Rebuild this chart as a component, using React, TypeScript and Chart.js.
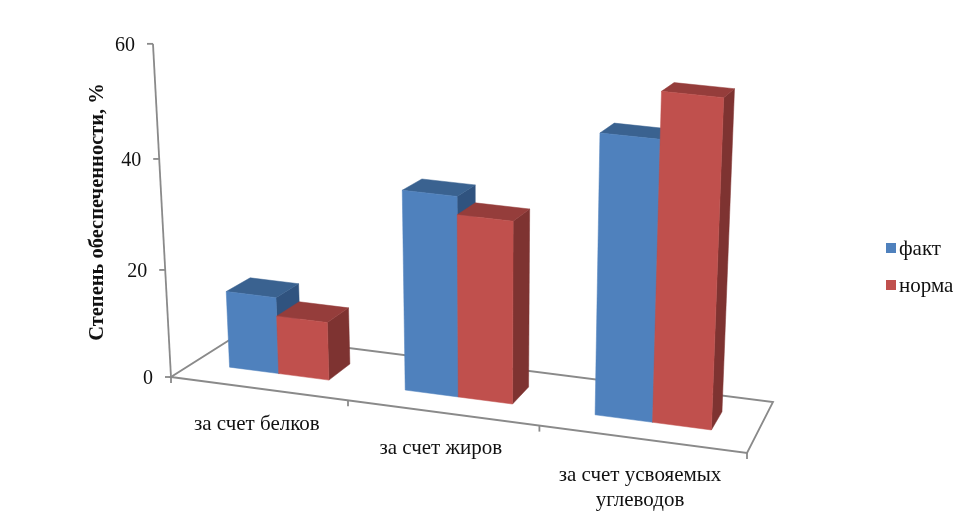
import React, { useEffect, useRef } from "react";
import { Chart, registerables } from "chart.js";

Chart.register(...registerables);

const categories: (string | string[])[] = ["за счет белков", "за счет жиров", ["за счет усвояемых", "углеводов"]];
const factValues = [14.5, 37.1, 51];
const normValues = [11, 33.8, 59.2];
const yTicks = { min: 0, max: 60, stepSize: 20 };
const yTitle = "Степень обеспеченности, %";
const FONT = '"Liberation Serif", serif';
const BLUE = ["#4F81BD", "#3A6290", "#30537F"];
const RED = ["#C0504D", "#953D3B", "#7E3331"];
const AXIS = "#8A8A8A";

// floor quad of the 3D scene (calibration of the projection)
const FLOOR = [[171, 377], [747, 453], [773, 402], [239, 334]];
const VANISH = [493, 6330];
const TOP_SCALE = -0.053; // homogeneous shift at the axis maximum
const DEPTH = [0.32, 0.68];
const FORESHORTEN = 0.072;

function makeProjector(maxZ: number) {
  const [[x0, y0], [x1, y1], [x2, y2], [x3, y3]] = FLOOR;
  const dx1 = x1 - x2, dx2 = x3 - x2, sx = x0 - x1 + x2 - x3;
  const dy1 = y1 - y2, dy2 = y3 - y2, sy = y0 - y1 + y2 - y3;
  const den = dx1 * dy2 - dx2 * dy1;
  const g = (sx * dy2 - dx2 * sy) / den;
  const h = (dx1 * sy - sx * dy1) / den;
  const a = x1 - x0 + g * x1, b = x3 - x0 + h * x3;
  const d = y1 - y0 + g * y1, e = y3 - y0 + h * y3;
  return (uRaw: number, v: number, z: number): [number, number] => {
    const u = uRaw / (1 + FORESHORTEN * (1 - uRaw));
    const s = (z / maxZ) * TOP_SCALE;
    const X = a * u + b * v + x0 + s * VANISH[0];
    const Y = d * u + e * v + y0 + s * VANISH[1];
    const W = g * u + h * v + 1 + s;
    return [X / W, Y / W];
  };
}

function poly(ctx: CanvasRenderingContext2D, pts: [number, number][], fill: string) {
  ctx.beginPath();
  pts.forEach((p, i) => (i ? ctx.lineTo(p[0], p[1]) : ctx.moveTo(p[0], p[1])));
  ctx.closePath();
  ctx.fillStyle = fill;
  ctx.fill();
  ctx.strokeStyle = fill;
  ctx.lineWidth = 0.5;
  ctx.stroke();
}

const scene3d = {
  id: "scene3d",
  beforeDatasetsDraw(chart: any) {
    const { ctx, chartArea: area, scales } = chart;
    const xS = scales.x, yS = scales.y;
    const P = makeProjector(yS.max);
    const toU = (px: number) => (px - area.left) / area.width;
    ctx.save();

    // floor and axes
    ctx.strokeStyle = AXIS;
    ctx.lineWidth = 1.8;
    ctx.beginPath();
    ctx.moveTo(FLOOR[0][0], FLOOR[0][1]);
    FLOOR.slice(1).forEach((p) => ctx.lineTo(p[0], p[1]));
    ctx.closePath();
    ctx.stroke();
    const bottom = P(0, 0, 0), top = P(0, 0, yS.max);
    ctx.beginPath();
    ctx.moveTo(bottom[0], bottom[1]);
    ctx.lineTo(top[0], top[1]);
    ctx.stroke();

    // value ticks and labels
    ctx.fillStyle = "#111";
    ctx.font = `20px ${FONT}`;
    ctx.textAlign = "right";
    ctx.textBaseline = "middle";
    yS.ticks.forEach((t: any) => {
      const p = P(0, 0, t.value);
      ctx.beginPath();
      ctx.moveTo(p[0], p[1]);
      ctx.lineTo(p[0] - 6, p[1]);
      ctx.stroke();
      ctx.fillText(String(t.value), p[0] - 18, p[1] + 2);
    });

    // category ticks and labels
    const n = xS.getLabels().length;
    for (let i = 0; i <= n; i++) {
      const p = P(i / n, 0, 0);
      ctx.beginPath();
      ctx.moveTo(p[0], p[1]);
      ctx.lineTo(p[0], p[1] + 6);
      ctx.stroke();
    }
    ctx.font = `21px ${FONT}`;
    ctx.textAlign = "center";
    xS.getLabels().forEach((lab: string | string[], i: number) => {
      const p = P((i + 0.5) / n, 0, 0);
      const lines = Array.isArray(lab) ? lab : [lab];
      lines.forEach((s, k) => ctx.fillText(s, p[0] - 1, p[1] + 36 + k * 25));
    });

    // bars
    const palettes = [BLUE, RED];
    for (let c = 0; c < n; c++) {
      chart.data.datasets.forEach((_: any, ds: number) => {
        const el = chart.getDatasetMeta(ds).data[c];
        const pal = palettes[ds];
        const u0 = toU(el.x - el.width / 2), u1 = toU(el.x + el.width / 2);
        const z = yS.getValueForPixel(el.y);
        const [v0, v1] = DEPTH;
        poly(ctx, [P(u1, v0, 0), P(u1, v1, 0), P(u1, v1, z), P(u1, v0, z)], pal[2]);
        poly(ctx, [P(u0, v0, z), P(u1, v0, z), P(u1, v1, z), P(u0, v1, z)], pal[1]);
        poly(ctx, [P(u0, v0, 0), P(u1, v0, 0), P(u1, v0, z), P(u0, v0, z)], pal[0]);
      });
    }

    // value axis title
    ctx.save();
    ctx.translate(98, 212);
    ctx.rotate(-Math.PI / 2);
    ctx.font = `bold 20.5px ${FONT}`;
    ctx.fillStyle = "#111";
    ctx.textAlign = "center";
    ctx.fillText(yTitle, 0, 0);
    ctx.restore();

    // legend
    ctx.font = `21px ${FONT}`;
    ctx.textAlign = "left";
    chart.data.datasets.forEach((dset: any, i: number) => {
      const y = 248 + i * 37;
      ctx.fillStyle = dset.backgroundColor;
      ctx.fillRect(886, y - 5, 10, 10);
      ctx.fillStyle = "#111";
      ctx.fillText(dset.label, 899, y + 1);
    });

    ctx.restore();
    return false;
  },
};

export default function App() {
  const ref = useRef<HTMLCanvasElement>(null);
  useEffect(() => {
    const chart = new Chart(ref.current as HTMLCanvasElement, {
      type: "bar",
      data: {
        labels: categories as any,
        datasets: [
          { label: "факт", data: factValues, backgroundColor: BLUE[0] },
          { label: "норма", data: normValues, backgroundColor: RED[0] },
        ],
      },
      options: {
        responsive: false,
        animation: false,
        layout: { padding: 0 },
        datasets: { bar: { categoryPercentage: 0.575, barPercentage: 1 } },
        plugins: { legend: { display: false }, tooltip: { enabled: false } },
        scales: {
          x: { display: false },
          y: { display: false, min: yTicks.min, max: yTicks.max, ticks: { stepSize: yTicks.stepSize } },
        },
      },
      plugins: [scene3d as any],
    });
    return () => chart.destroy();
  }, []);
  return (
    <div style={{ position: "absolute", left: 0, top: 0, background: "#fff" }}>
      <canvas ref={ref} width={975} height={531} style={{ display: "block" }} />
    </div>
  );
}
